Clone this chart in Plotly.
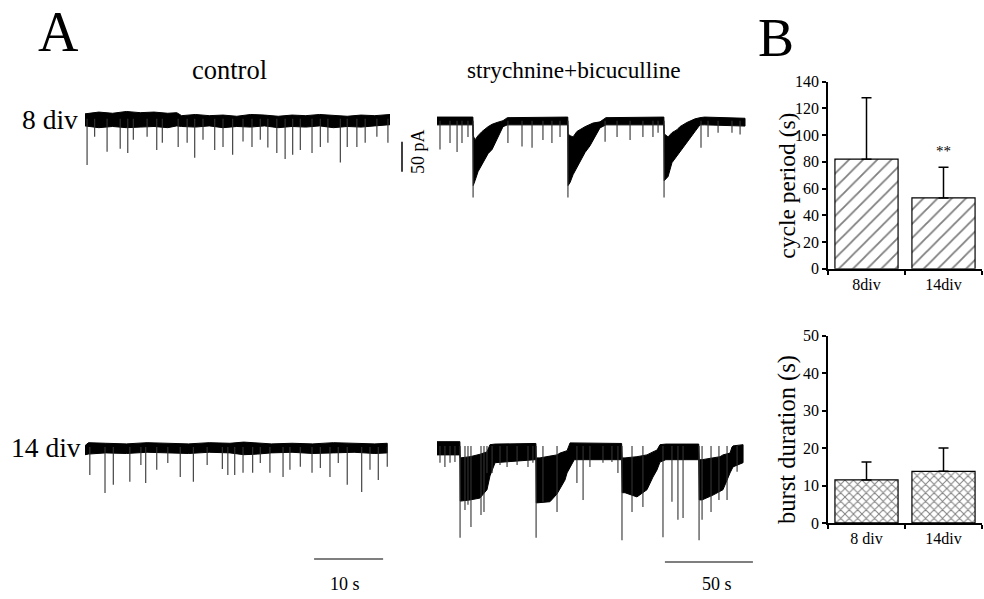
import plotly.graph_objects as go

W, H = 984, 599
SERIF = "Liberation Serif, Times New Roman, serif"
# measured vertical mapping of the photographed page: screen_y = CY + SY * page_y
CY, SY = 8.4, 0.971

# ---------------- Panel A data (time in s, current in pA relative to baseline) -------------
# control, 8 div : noise band envelope and individual synaptic events
c8_env_t = [0, 2, 4, 6, 8, 10, 12, 13.3, 14, 16, 18, 20, 22, 24, 26, 28, 30, 32, 34, 36, 38, 40, 42, 44.2]
c8_env_hi = [8, 11, 9, 12, 10, 11, 9, 10, 5, 7, 5, 6, 4, 7, 6, 4, 6, 5, 7, 5, 4, 6, 5, 7]
c8_env_lo = [-12, -15, -13, -15, -14, -13, -15, -12, -13, -14, -12, -15, -13, -14, -12, -15, -13, -14, -12, -15, -13, -14, -12, -10]
c8_ev_t = [0.3, 1.4, 3.2, 5.1, 6.2, 7.0, 9.0, 10.4, 11.2, 13.5, 14.8, 15.9, 17.1, 18.8, 20.0, 21.4,
           22.9, 24.2, 25.4, 26.5, 27.8, 29.0, 30.1, 31.2, 32.9, 34.1, 35.2, 37.0, 38.0, 39.4, 40.6,
           42.3, 43.9]
c8_ev_a = [-77, -30, -55, -50, -57, -35, -30, -52, -40, -47, -40, -65, -35, -52, -47, -60,
           -38, -47, -35, -48, -57, -67, -60, -52, -57, -47, -40, -73, -47, -47, -40,
           -30, -40]

# strychnine+bicuculline, 8 div
s8_env_t = [0, 20.4, 20.6, 21.6, 23.3, 25.6, 29.0, 31.3, 34.1, 37.5, 40.0,
            74.3, 74.5, 75.6, 77.3, 79.5, 84.1, 86.9, 88.6, 92.6, 96.0,
            128.9, 129.1, 131.3, 133.5, 136.4, 138.0, 142.0, 146.6, 149.4, 152.0, 175.0]
s8_env_hi = [6, 6, -25, -32, -25, -18, -10, -6, -3, 0, 5,
             6, -22, -25, -27, -18, -10, -7, -4, -2, 5,
             6, -22, -27, -20, -15, -10, -3, 3, 5, 6, 4]
s8_env_lo = [-7, -7, -108, -100, -85, -72, -55, -48, -32, -10, -7,
             -7, -108, -103, -90, -77, -53, -42, -32, -12, -7,
             -7, -100, -93, -70, -60, -53, -37, -18, -7, -7, -9]
s8_ev_t = [1.7, 7.4, 11.4, 14.2, 17.6, 20.5, 40.3, 48.3, 54.0, 60.2, 65.3, 69.9, 74.4,
           95.5, 102.3, 109.7, 117.0, 122.7, 125.6, 129.0, 150.0, 154.0, 159.7, 167.6, 172.2]
s8_ev_a = [-48, -37, -52, -37, -27, -128, -37, -43, -45, -32, -37, -27, -128,
           -35, -27, -32, -27, -27, -20, -128, -45, -27, -20, -20, -23]

# control, 14 div
c14_env_t = [0, 0.5, 3, 6, 9, 12, 15, 18, 21, 23, 25, 27, 30, 33, 36, 39, 42, 43.8]
c14_env_hi = [2, 7, 6, 5, 7, 6, 5, 7, 6, 8, 7, 5, 6, 5, 7, 6, 5, 6]
c14_env_lo = [-13, -12, -10, -11, -9, -10, -11, -9, -10, -13, -12, -10, -9, -11, -10, -9, -11, -10]
c14_ev_t = [0.7, 2.9, 4.1, 6.5, 8.1, 8.8, 10.4, 12.0, 13.8, 15.7, 17.7, 19.9, 20.7, 21.7, 22.9,
            24.3, 25.4, 26.8, 28.7, 29.7, 31.2, 32.9, 34.1, 35.5, 36.7, 38.0, 40.1, 41.3, 42.5, 43.8]
c14_ev_a = [-47, -77, -63, -58, -30, -60, -38, -27, -50, -58, -30, -37, -47, -47, -43,
            -43, -27, -43, -50, -38, -33, -43, -35, -50, -27, -63, -75, -38, -55, -33]

# strychnine+bicuculline, 14 div
s14_env_t = [0, 13.0, 13.2, 18.8, 24.4, 28.4, 30.1, 33.0, 55.7,
             56.2, 56.4, 58.5, 64.2, 68.2, 69.9, 72.7, 73.9, 75.6, 78.0, 104.9,
             105.2, 106.8, 113.6, 119.3, 122.7, 125.0, 126.7, 130.0, 148.7,
             149.0, 150.6, 156.8, 160.8, 162.5, 166.5, 167.6, 168.2, 173.9]
s14_env_hi = [7, 7, -20, -18, -14, -10, 2, 3, 4,
              4, -20, -20, -17, -15, -12, -10, -8, 5, 5, 4,
              -20, -20, -18, -15, -10, -7, 2, 3, 3,
              -23, -23, -20, -18, -15, -12, -2, 0, 2]
s14_env_lo = [-15, -15, -92, -90, -87, -73, -50, -28, -23,
              -23, -95, -95, -93, -80, -73, -57, -45, -35, -23, -23,
              -78, -78, -85, -73, -52, -40, -27, -23, -23,
              -90, -90, -82, -76, -73, -45, -38, -35, -28]
s14_ev_t = [1.7, 4.5, 7.4, 10.2, 13.1, 15.9, 17.6, 19.3, 25.0, 26.7, 28.4,
            31.3, 35.8, 39.8, 45.5, 51.7, 54.5,
            56.3, 60.2, 68.2, 79.5, 83.0, 86.9, 94.3, 99.4, 102.8,
            105.1, 110.8, 117.0, 128.4, 133.5, 136.9, 139.8,
            148.9, 150.6, 155.7, 160.2, 164.8, 170.5]
s14_ev_a = [-28, -35, -28, -27, -153, -107, -98, -135, -115, -110, -45,
            -45, -32, -35, -32, -35, -28,
            -153, -93, -110, -62, -90, -35, -28, -27, -45,
            -157, -110, -102, -152, -93, -123, -120,
            -157, -123, -110, -90, -90, -43]

# ---------------- Panel B data -----------------
cyc_cat = ["8div", "14div"]
cyc_mean = [82, 53]
cyc_err = [46, 23]
bur_cat = ["8 div", "14div"]
bur_mean = [11.5, 13.8]
bur_err = [4.8, 6.2]


def px(x):
    return x / W


def py(y):
    return 1 - ((y - CY) / SY) / H


def band(t, hi, lo):
    return list(t) + list(t)[::-1], list(hi) + list(lo)[::-1]


def spikes(t, a):
    xs, ys = [], []
    for ti, ai in zip(t, a):
        xs += [ti, ti, None]
        ys += [0, ai, None]
    return xs, ys


fig = go.Figure()

traces = [
    (c8_env_t, c8_env_hi, c8_env_lo, c8_ev_t, c8_ev_a, "x", "y"),
    (s8_env_t, s8_env_hi, s8_env_lo, s8_ev_t, s8_ev_a, "x2", "y2"),
    (c14_env_t, c14_env_hi, c14_env_lo, c14_ev_t, c14_ev_a, "x3", "y3"),
    (s14_env_t, s14_env_hi, s14_env_lo, s14_ev_t, s14_ev_a, "x4", "y4"),
]
for et, eh, el, st, sa, xa, ya in traces:
    bx, by = band(et, eh, el)
    fig.add_trace(go.Scatter(x=bx, y=by, xaxis=xa, yaxis=ya, mode="lines", fill="toself",
                             fillcolor="black", line=dict(color="black", width=1),
                             hoverinfo="skip"))
    sx, sy = spikes(st, sa)
    fig.add_trace(go.Scatter(x=sx, y=sy, xaxis=xa, yaxis=ya, mode="lines",
                             line=dict(color="#333333", width=1.1), hoverinfo="skip"))

# Bar charts
fig.add_trace(go.Bar(x=cyc_cat, y=cyc_mean, xaxis="x5", yaxis="y5", width=0.82,
                     marker=dict(color="white", line=dict(color="black", width=1.2),
                                 pattern=dict(shape="/", fgcolor="black", bgcolor="white",
                                              size=10, solidity=0.18)),
                     error_y=dict(type="data", symmetric=False, array=cyc_err,
                                  arrayminus=[0, 0], color="black", thickness=1.5, width=5)))
fig.add_trace(go.Bar(x=bur_cat, y=bur_mean, xaxis="x6", yaxis="y6", width=0.82,
                     marker=dict(color="white", line=dict(color="black", width=1.2),
                                 pattern=dict(shape="x", fgcolor="black", bgcolor="white",
                                              size=6, solidity=0.3)),
                     error_y=dict(type="data", symmetric=False, array=bur_err,
                                  arrayminus=[0, 0], color="black", thickness=1.5, width=5)))

hidden = dict(visible=False, fixedrange=True)
ctrl_dom = [px(85), px(390)]
str_dom = [px(437), px(437 + 180 * 1.76)]
YR = [-170, 30]


def ydom(base):
    return [py(base + 102), py(base - 18)]


tick_font = dict(family=SERIF, size=16, color="black")
bar_x = dict(domain=[px(828), px(982)], range=[-0.5, 1.5], showline=True, linecolor="black",
             linewidth=1.5, ticks="outside", tickson="boundaries", ticklen=4, tickwidth=1.5,
             tickcolor="black", tickfont=tick_font, showgrid=False, fixedrange=True)
bar_y = dict(showline=True, linecolor="black", linewidth=1.5, ticks="outside", ticklen=4,
             tickwidth=1.5, tickcolor="black", tickfont=tick_font, showgrid=False,
             zeroline=False, fixedrange=True)

fig.update_layout(
    width=W, height=H, margin=dict(l=0, r=0, t=0, b=0),
    paper_bgcolor="white", plot_bgcolor="white", showlegend=False,
    font=dict(family=SERIF, color="black"),
    xaxis=dict(domain=ctrl_dom, range=[0, 44.2], **hidden),
    yaxis=dict(domain=ydom(119), range=YR, anchor="x", **hidden),
    xaxis2=dict(domain=str_dom, range=[0, 180], anchor="y2", **hidden),
    yaxis2=dict(domain=ydom(121), range=YR, anchor="x2", **hidden),
    xaxis3=dict(domain=ctrl_dom, range=[0, 44.2], anchor="y3", **hidden),
    yaxis3=dict(domain=ydom(447), range=YR, anchor="x3", **hidden),
    xaxis4=dict(domain=str_dom, range=[0, 180], anchor="y4", **hidden),
    yaxis4=dict(domain=ydom(446), range=YR, anchor="x4", **hidden),
    xaxis5=dict(anchor="y5", **bar_x),
    yaxis5=dict(domain=[py(269), py(82)], range=[0, 140], dtick=20, anchor="x5", **bar_y),
    xaxis6=dict(anchor="y6", **bar_x),
    yaxis6=dict(domain=[py(523), py(336)], range=[0, 50], dtick=10, anchor="x6", **bar_y),
)

# scale bars
fig.add_shape(type="line", xref="x3", yref="paper", x0=33.2, x1=43.2, y0=py(559), y1=py(559),
              line=dict(color="#555", width=1.5))
fig.add_shape(type="line", xref="x4", yref="paper", x0=129.5, x1=179.5, y0=py(562), y1=py(562),
              line=dict(color="#555", width=1.5))
fig.add_shape(type="line", xref="paper", yref="y2", x0=px(402), x1=px(402), y0=-35, y1=-85,
              line=dict(color="black", width=1.5))


def txt(x, y, s, size, angle=0, xref="paper", yref="paper"):
    fig.add_annotation(x=x, y=y, xref=xref, yref=yref, text=s, showarrow=False,
                       textangle=angle, font=dict(family=SERIF, size=size, color="black"),
                       xanchor="center", yanchor="middle")


txt(px(58), py(32), "A", 56)
txt(px(776), py(38), "B", 54)
txt(px(229), py(70), "control", 26.5)
txt(px(574), py(70), "strychnine+bicuculline", 23.3)
txt(px(50), py(120), "8 div", 27.5)
txt(px(46), py(448), "14 div", 27.5)
txt(px(418), -52, "50 pA", 18, angle=-90, yref="y2")
txt(px(345), py(584), "10 s", 18)
txt(px(717), py(584), "50 s", 18)
txt(1, 88, "**", 15, xref="x5", yref="y5")
txt(px(787), py(186), "cycle period (s)", 23.5, angle=-90)
txt(px(787), py(440), "burst duration (s)", 24.5, angle=-90)

# pin the graph to the window's top-left corner (no default page margin)
pin = ("var d=document.getElementById('{plot_id}');"
       "document.body.style.margin='0';document.body.style.padding='0';"
       "d.style.position='fixed';d.style.left='0px';d.style.top='0px';")

fig.write_html("out.html", post_script=pin, config={"displayModeBar": False})
